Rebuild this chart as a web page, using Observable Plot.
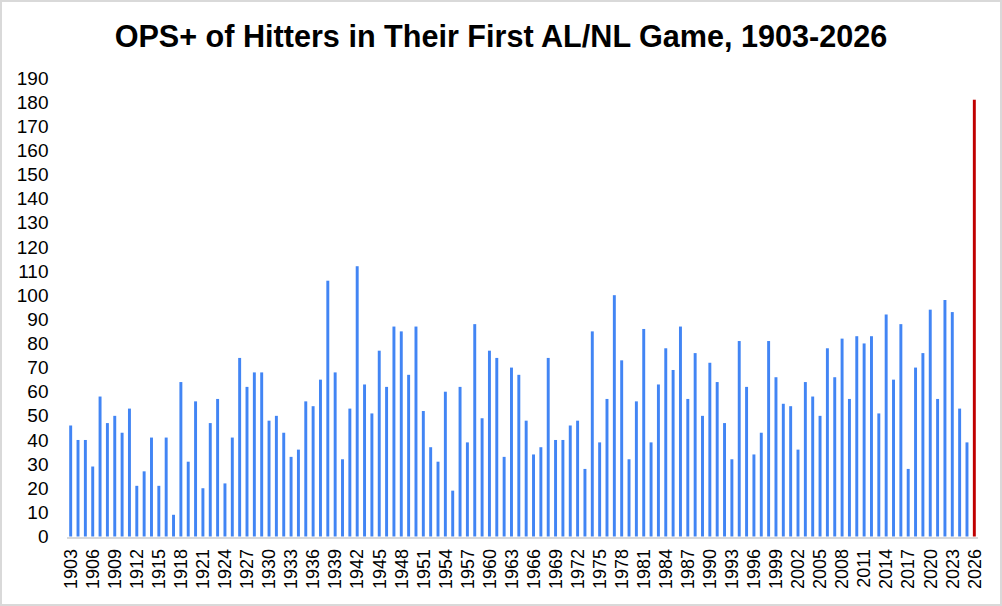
<!DOCTYPE html>
<html>
<head>
<meta charset="utf-8">
<script src="https://cdn.jsdelivr.net/npm/d3@7"></script>
<script src="https://cdn.jsdelivr.net/npm/@observablehq/plot@0.6"></script>
<style>
  html, body { margin: 0; padding: 0; background: #fff; }
  #wrap { position: relative; width: 1002px; height: 606px; overflow: hidden; background: #fff; }
  #title { position: absolute; left: 0; top: 21px; width: 1002px; text-align: center; line-height: 31px;
    font-family: "Liberation Sans", Arial, sans-serif; font-weight: bold; font-size: 30.6px; color: #000; }
  #chart { position: absolute; left: 0; top: 60px; }
  #frame { position: absolute; left: 0; top: 0; width: 1002px; height: 606px; box-sizing: border-box;
    border: 2px solid #d9d9d9; pointer-events: none; }
</style>
</head>
<body>
<div id="wrap">
  <div id="title">OPS+ of Hitters in Their First AL/NL Game, 1903-2026</div>
  <div id="chart"></div>
  <div id="frame"></div>
</div>
<script>
const years = d3.range(1903, 2027);
const opsPlus = [
  46, 40, 40, 29, 58, 47, 50, 43, 53, 21,   // 1903-1912
  27, 41, 21, 41, 9, 64, 31, 56, 20, 47,    // 1913-1922
  57, 22, 41, 74, 62, 68, 68, 48, 50, 43,   // 1923-1932
  33, 36, 56, 54, 65, 106, 68, 32, 53, 112, // 1933-1942
  63, 51, 77, 62, 87, 85, 67, 87, 52, 37,   // 1943-1952
  31, 60, 19, 62, 39, 88, 49, 77, 74, 33,   // 1953-1962
  70, 67, 48, 34, 37, 74, 40, 40, 46, 48,   // 1963-1972
  28, 85, 39, 57, 100, 73, 32, 56, 86, 39,  // 1973-1982
  63, 78, 69, 87, 57, 76, 50, 72, 64, 47,   // 1983-1992
  32, 81, 62, 34, 43, 81, 66, 55, 54, 36,   // 1993-2002
  64, 58, 50, 78, 66, 82, 57, 83, 80, 83,   // 2003-2012
  51, 92, 65, 88, 28, 70, 76, 94, 57, 98,   // 2013-2022
  93, 53, 39, 181                           // 2023-2026
];
const highlightYear = 2026;
const xTickLabels = d3.range(1903, 2027, 3);
const yTickLabels = d3.range(0, 191, 10);

const data = years.map((year, i) => ({year, ops: opsPlus[i]}));

const chart = Plot.plot({
  width: 1002,
  height: 546,
  marginTop: 18,
  marginBottom: 69.5,
  marginLeft: 67,
  marginRight: 24,
  style: {fontFamily: '"Liberation Sans", Arial, sans-serif', color: "#000", background: "transparent"},
  x: {type: "band", domain: years, paddingInner: 0.6, paddingOuter: 0.3},
  y: {domain: [0, 190]},
  marks: [
    Plot.barY(data.filter(d => d.year !== highlightYear), {x: "year", y: "ops", fill: "#4285F4"}),
    Plot.barY(data.filter(d => d.year === highlightYear), {x: "year", y: "ops", fill: "#C00000"}),
    Plot.ruleY([0], {stroke: "#d9d9d9", strokeWidth: 2, dy: 1}),
    Plot.axisY({ticks: yTickLabels, tickSize: 0, tickPadding: 19, fontSize: 19, label: null, fill: "#000"}),
    Plot.axisX({ticks: xTickLabels, tickFormat: d => String(d), tickSize: 0, tickRotate: -90, tickPadding: 12, fontSize: 18, label: null, fill: "#000"})
  ]
});
document.getElementById("chart").appendChild(chart);
</script>
</body>
</html>
